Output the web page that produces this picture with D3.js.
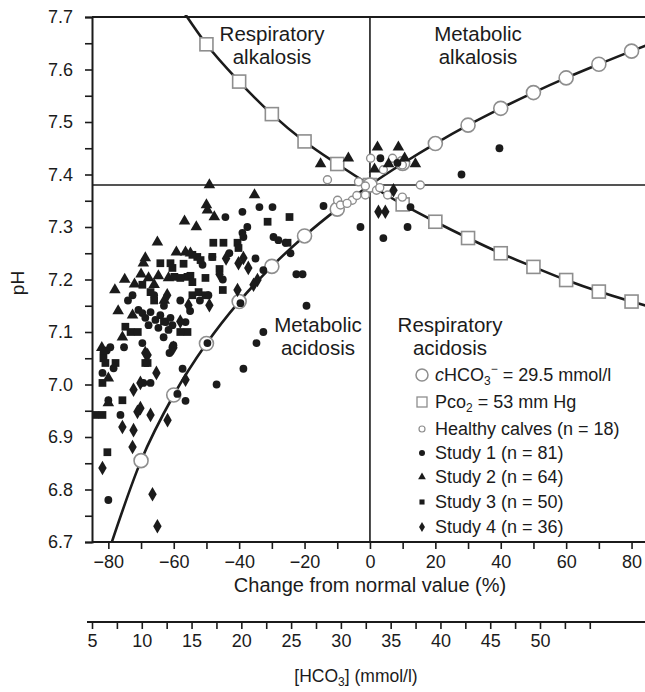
<!DOCTYPE html>
<html><head><meta charset="utf-8">
<script src="https://cdn.jsdelivr.net/npm/d3@7"></script>
<style>
html,body{margin:0;padding:0;background:#fff;}
svg{display:block;font-family:"Liberation Sans",Arial,Helvetica,sans-serif;}
</style></head>
<body><svg id="c" width="645" height="692"></svg>
<script>
// ---- data ----
const xTicks = [-80,-60,-40,-20,0,20,40,60,80];
const yTicks = [6.7,6.8,6.9,7.0,7.1,7.2,7.3,7.4,7.5,7.6,7.7];
const hco3Ticks = [5,10,15,20,25,30,35,40,45,50];

// cHCO3 isopleth (circles) : % change vs pH
const circleLineX  = [-80,-70,-60,-50,-40,-30,-20,-10,0,10,20,30,40,50,60,70,80,85];
const circleLinePH = [6.68,6.855,6.98,7.078,7.158,7.225,7.283,7.334,7.38,7.421,7.459,7.494,7.526,7.556,7.584,7.61,7.635,7.647];
const circleMarkX  = [-70,-60,-50,-40,-30,-20,-10,0,10,20,30,40,50,60,70,80];
// Pco2 isopleth (squares)
const squareLineX  = [-57,-50,-40,-30,-20,-10,0,10,20,30,40,50,60,70,80,85];
const squareLinePH = [7.71,7.648,7.577,7.515,7.463,7.42,7.38,7.343,7.31,7.279,7.25,7.224,7.199,7.177,7.158,7.149];
const squareMarkX  = [-50,-40,-30,-20,-10,0,10,20,30,40,50,60,70,80];

// Healthy calves
const healthyX  = [-13,0.2,-3.5,-1.4,15.4,4.1,6.9,9.9,-9.9,-9,-5.4,-1.4,5.4,9.9,-7,2,-4,3];
const healthyPH = [7.39,7.431,7.386,7.378,7.38,7.409,7.431,7.418,7.351,7.342,7.351,7.361,7.361,7.357,7.345,7.37,7.36,7.375];

// Study 1 (circles)
const s1X  = [-44.2,-39,-33.8,-29.8,-14.2,-37.5,-39,-38.7,-29.5,-28,-25.8,-48.2,-24.3,-51.2,-32.6,-22.5,-20.6,-72.6,-49.4,-39.6,-19.4,-70.8,-69.6,-68.7,-67.1,-65.6,-64.1,-62.5,-61,-67.7,-64.7,-61.6,-60.4,-56.4,-32.6,-34.7,-49.7,-63.1,-79.4,-75.2,-69.6,-60.4,-80.5,-81.5,-78.4,-81.8,-80,-76.3,-80,-69.3,-67.1,-61.3,-60.1,-57.3,-58.9,-56.4,-46.9,-38.7,3.2,8.4,-2.9,4.1,11.5,12.4,28,39.6,-74,-66,-58,-63,-55,-52,-45,-43,-35];
const s1PH = [7.319,7.329,7.338,7.338,7.34,7.30,7.289,7.281,7.281,7.275,7.27,7.243,7.25,7.228,7.218,7.21,7.21,7.17,7.17,7.155,7.15,7.142,7.136,7.127,7.138,7.123,7.132,7.119,7.127,7.113,7.108,7.104,7.113,7.119,7.10,7.079,7.079,7.09,7.071,7.071,7.079,7.071,7.065,7.06,7.031,7.022,6.97,6.942,6.78,7.003,7.003,7.06,7.075,7.03,6.982,6.969,7.0,7.03,7.431,7.422,7.30,7.279,7.30,7.338,7.40,7.45,7.16,7.17,7.16,7.15,7.14,7.16,7.2,7.25,7.24];

// Study 2 (triangles)
const s2X  = [-15.1,-49.1,-35.3,-50,-49.7,-47.6,-56.7,-53.1,-65,-59.2,-56.4,-54.9,-68.7,-69.3,-67.7,-64.7,-61.6,-72,-62.9,-72.6,-75.7,-80,-80,-6.6,2.3,8.7,1.4,5.7,10.6,13.9,-75,-78,-66,-70,-77,-82];
const s2PH = [7.42,7.38,7.361,7.342,7.332,7.319,7.311,7.30,7.271,7.252,7.252,7.25,7.241,7.231,7.203,7.207,7.203,7.191,7.16,7.132,7.09,7.012,6.965,7.431,7.452,7.452,7.41,7.42,7.431,7.42,7.2,7.18,7.19,7.21,7.14,7.07];

// Study 3 (squares)
const s3X  = [-31.3,-24.6,-47.9,-44.8,-40.5,-40.2,-25.2,-52.8,-51.8,-48.2,-64.1,-61,-60.4,-54.3,-59.8,-55.8,-58,-54.9,-54.3,-50.3,-69.6,-67.1,-54.3,-52.4,-50.3,-55.8,-58,-74.8,-73.2,-81.5,-80.9,-77.8,-81.8,-75.7,-84,-81.8,-80.3,-68.7,-68,-71,-66,-63,-57,-46,-45];
const s3PH = [7.31,7.319,7.27,7.27,7.27,7.26,7.27,7.243,7.237,7.243,7.231,7.231,7.222,7.247,7.205,7.205,7.203,7.207,7.195,7.203,7.19,7.176,7.17,7.176,7.17,7.10,7.10,7.11,7.10,7.05,7.041,7.041,7.003,6.97,6.942,6.942,6.871,7.041,7.041,7.10,7.16,7.12,7.23,7.22,7.18];

// Study 4 (diamonds)
const s4X  = [-38.7,-40.2,-37.2,-34.4,-35.6,-40.5,-55.5,-49.1,-75.7,-72.3,-72.6,-81.8,-66.5,-65,-70.2,-72.3,-67.1,-70.2,-71.1,-61.9,-68.7,-68,-65.3,-60.1,-56.4,2.6,4.7,7.2,-46,-44,-62,-58];
const s4PH = [7.241,7.231,7.222,7.199,7.19,7.18,7.151,7.151,6.919,6.913,6.881,6.841,6.791,6.73,7.003,6.99,6.942,6.955,6.948,6.932,7.06,7.056,7.022,7.07,7.009,7.329,7.329,7.37,7.21,7.24,7.17,7.12];

const legendLabels = ["Healthy calves (n = 18)","Study 1 (n = 81)","Study 2 (n = 64)","Study 3 (n = 50)","Study 4 (n = 36)"];

// ---- drawing ----
const svg = d3.select("#c");
const L = 92, R = 645, T = 17, B = 542;
const x = d3.scaleLinear().domain([-85, 85]).range([L, L + 170*3.27]);
const y = d3.scaleLinear().domain([6.7, 7.7]).range([B, T]);
const h = d3.scaleLinear().domain([5, 50]).range([92, 540]);
const INK = "#1b1b1b", GREY = "#8e8e8e";
const FONT = "Liberation Sans, Arial, sans-serif";

svg.append("defs").append("clipPath").attr("id","clip")
  .append("rect").attr("x",L).attr("y",T-2).attr("width",R-L).attr("height",B-T+2);

// y axis
const yAx = svg.append("g").attr("transform",`translate(${L},0)`)
  .call(d3.axisLeft(y).tickValues(d3.range(6.7,7.7001,0.05)).tickSize(7)
        .tickFormat(d => { const r = Math.round(d*100); return r % 10 === 0 ? d3.format(".1f")(d) : ""; }));
yAx.select(".domain").attr("stroke",INK).attr("stroke-width",2);
yAx.selectAll(".tick line").attr("stroke",INK).attr("stroke-width",1.6);
yAx.selectAll(".tick text").attr("font-size",18).attr("fill",INK).attr("x",-19).attr("font-family",FONT);

// x axis
const xAx = svg.append("g").attr("transform",`translate(0,${B})`)
  .call(d3.axisBottom(x).tickValues(d3.range(-80,81,10)).tickSize(7)
        .tickFormat(d => d % 20 === 0 ? (d < 0 ? "\u2212"+Math.abs(d) : d) : ""));
xAx.select(".domain").attr("stroke",INK).attr("stroke-width",2).attr("d",`M${L},0H${R}`);
xAx.selectAll(".tick line").attr("stroke",INK).attr("stroke-width",1.6);
xAx.selectAll(".tick text").attr("font-size",18).attr("fill",INK).attr("y",13).attr("font-family",FONT);

// HCO3 axis
const hAx = svg.append("g").attr("transform",`translate(0,622)`)
  .call(d3.axisBottom(h).tickValues(d3.range(5,55.1,2.5)).tickSize(7)
        .tickFormat(d => (d % 5 === 0 && d <= 50) ? d : ""));
hAx.select(".domain").attr("stroke",INK).attr("stroke-width",2).attr("d",`M87,0H${R}`);
hAx.selectAll(".tick line").attr("stroke",INK).attr("stroke-width",1.6);
hAx.selectAll(".tick text").attr("font-size",18).attr("fill",INK).attr("y",12).attr("font-family",FONT);

// top border & crosshairs
svg.append("line").attr("x1",L).attr("x2",R).attr("y1",T).attr("y2",T).attr("stroke",INK).attr("stroke-width",2);
svg.append("line").attr("x1",L).attr("x2",R).attr("y1",y(7.38)).attr("y2",y(7.38)).attr("stroke",INK).attr("stroke-width",1.6);
svg.append("line").attr("x1",x(0)).attr("x2",x(0)).attr("y1",T).attr("y2",B).attr("stroke",INK).attr("stroke-width",1.6);

const plot = svg.append("g").attr("clip-path","url(#clip)");
const line = d3.line().x(d=>x(d[0])).y(d=>y(d[1])).curve(d3.curveMonotoneX);
plot.append("path").datum(circleLineX.map((v,i)=>[v,circleLinePH[i]]))
  .attr("d",line).attr("fill","none").attr("stroke",INK).attr("stroke-width",2.6);
plot.append("path").datum(squareLineX.map((v,i)=>[v,squareLinePH[i]]))
  .attr("d",line).attr("fill","none").attr("stroke",INK).attr("stroke-width",2.6);

const cLookup = new Map(circleLineX.map((v,i)=>[v,circleLinePH[i]]));
const sLookup = new Map(squareLineX.map((v,i)=>[v,squareLinePH[i]]));

plot.selectAll(".sqm").data(squareMarkX).join("rect")
  .attr("x",d=>x(d)-6.5).attr("y",d=>y(sLookup.get(d))-6.5).attr("width",13).attr("height",13)
  .attr("fill","#fff").attr("stroke",GREY).attr("stroke-width",1.6);
plot.selectAll(".cm").data(circleMarkX).join("circle")
  .attr("cx",d=>x(d)).attr("cy",d=>y(cLookup.get(d))).attr("r",7)
  .attr("fill","#fff").attr("stroke",GREY).attr("stroke-width",1.6);

plot.selectAll(".hc").data(healthyX).join("circle")
  .attr("cx",d=>x(d)).attr("cy",(d,i)=>y(healthyPH[i])).attr("r",4)
  .attr("fill","#fff").attr("stroke",GREY).attr("stroke-width",1.4);

function sym(type,size){ return d3.symbol().type(type).size(size)(); }
plot.selectAll(".s1").data(s1X).join("circle")
  .attr("cx",d=>x(d)).attr("cy",(d,i)=>y(s1PH[i])).attr("r",3.9).attr("fill",INK);
plot.selectAll(".s2").data(s2X).join("path")
  .attr("d",sym(d3.symbolTriangle,58)).attr("transform",(d,i)=>`translate(${x(d)},${y(s2PH[i])})`).attr("fill",INK);
plot.selectAll(".s3").data(s3X).join("path")
  .attr("d",sym(d3.symbolSquare,60)).attr("transform",(d,i)=>`translate(${x(d)},${y(s3PH[i])})`).attr("fill",INK);
plot.selectAll(".s4").data(s4X).join("path")
  .attr("d",sym(d3.symbolDiamond,62)).attr("transform",(d,i)=>`translate(${x(d)},${y(s4PH[i])})`).attr("fill",INK);

// region labels
function label2(cx, y1, a, b){
  const t = svg.append("text").attr("text-anchor","middle").attr("font-size",20.5).attr("fill",INK);
  t.append("tspan").attr("x",cx).attr("y",y1).text(a);
  t.append("tspan").attr("x",cx).attr("y",y1+23).text(b);
}
label2(272, 41, "Respiratory", "alkalosis");
label2(478, 41, "Metabolic", "alkalosis");
label2(318, 332, "Metabolic", "acidosis");
label2(450, 332, "Respiratory", "acidosis");

// legend
const lgX = 422, tx = 435, fs = 18;
const rows = [375, 402, 429, 453, 477, 502, 527];
svg.append("circle").attr("cx",lgX).attr("cy",rows[0]).attr("r",6).attr("fill","#fff").attr("stroke",GREY).attr("stroke-width",1.5);
let t0 = svg.append("text").attr("x",tx).attr("y",rows[0]+6).attr("font-size",fs).attr("fill",INK);
t0.append("tspan").attr("font-style","italic").text("c");
t0.append("tspan").text("HCO");
t0.append("tspan").attr("font-size",12).attr("dy",4).text("3");
t0.append("tspan").attr("font-size",12).attr("dy",-12).text("\u2212");
t0.append("tspan").attr("dy",8).text(" = 29.5 mmol/l");
svg.append("rect").attr("x",lgX-5).attr("y",rows[1]-5).attr("width",10).attr("height",10).attr("fill","#fff").attr("stroke",GREY).attr("stroke-width",1.3);
let t1 = svg.append("text").attr("x",tx).attr("y",rows[1]+6).attr("font-size",fs).attr("fill",INK);
t1.append("tspan").text("Pco");
t1.append("tspan").attr("font-size",12).attr("dy",4).text("2");
t1.append("tspan").attr("dy",-4).text(" = 53 mm Hg");
svg.append("circle").attr("cx",lgX).attr("cy",rows[2]).attr("r",3).attr("fill","#fff").attr("stroke",GREY).attr("stroke-width",1.2);
svg.append("circle").attr("cx",lgX).attr("cy",rows[3]).attr("r",3).attr("fill",INK);
svg.append("path").attr("d",sym(d3.symbolTriangle,26)).attr("transform",`translate(${lgX},${rows[4]})`).attr("fill",INK);
svg.append("path").attr("d",sym(d3.symbolSquare,26)).attr("transform",`translate(${lgX},${rows[5]})`).attr("fill",INK);
svg.append("path").attr("d",sym(d3.symbolDiamond,30)).attr("transform",`translate(${lgX},${rows[6]})`).attr("fill",INK);
legendLabels.forEach((s,i)=>{
  svg.append("text").attr("x",tx).attr("y",rows[i+2]+6).attr("font-size",fs).attr("fill",INK).text(s);
});

// axis titles
svg.append("text").attr("x",370).attr("y",592).attr("text-anchor","middle").attr("font-size",20).attr("fill",INK)
  .text("Change from normal value (%)");
const ht = svg.append("text").attr("x",356).attr("y",682).attr("text-anchor","middle").attr("font-size",17.5).attr("fill",INK);
ht.append("tspan").text("[HCO");
ht.append("tspan").attr("font-size",12).attr("dy",4).text("3");
ht.append("tspan").attr("dy",-4).text("] (mmol/l)");
svg.append("text").attr("transform","translate(24,283) rotate(-90)").attr("text-anchor","middle").attr("font-size",19).attr("fill",INK).text("pH");
</script>
</body></html>
